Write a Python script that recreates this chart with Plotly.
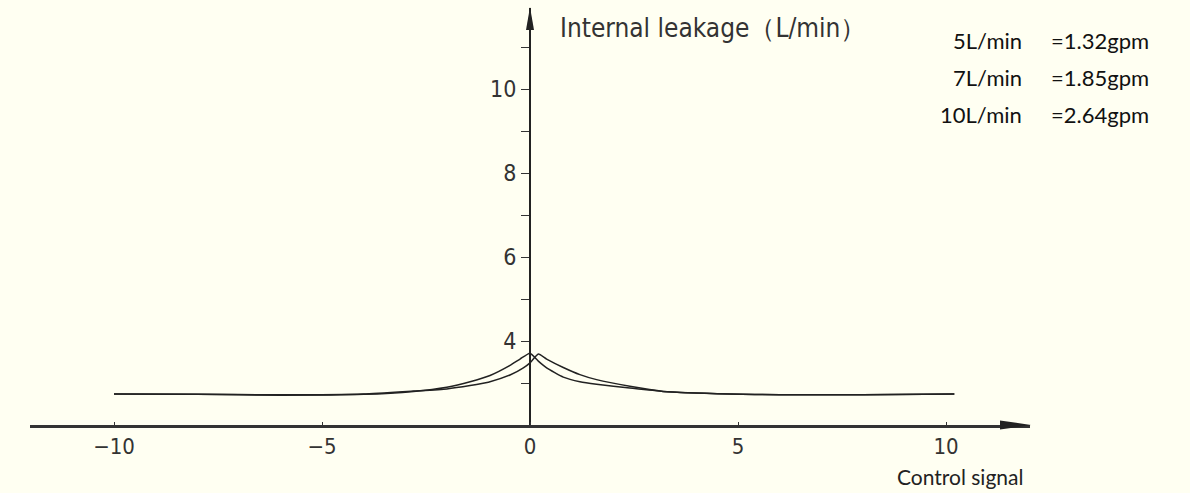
import plotly.graph_objects as go

# ---------------- data ----------------
x_a = [-10, -8, -6, -4, -2.8, -2, -1.44, -0.96, -0.48, -0.24, 0, 0.2, 0.4, 0.8, 1.2, 1.6, 2.4, 3.2, 4.8, 6, 8, 10.2]
y_a = [2.74, 2.73, 2.71, 2.73, 2.80, 2.90, 3.03, 3.18, 3.42, 3.57, 3.71, 3.52, 3.36, 3.14, 3.03, 2.97, 2.88, 2.80, 2.74, 2.72, 2.72, 2.74]

x_b = [-10, -8, -6, -4, -2.8, -2, -1.44, -1, -0.48, -0.16, 0, 0.2, 0.4, 0.8, 1.2, 1.6, 2.4, 3.2, 4.8, 6, 8, 10.2]
y_b = [2.74, 2.73, 2.72, 2.74, 2.81, 2.86, 2.94, 3.02, 3.19, 3.36, 3.48, 3.69, 3.57, 3.37, 3.20, 3.08, 2.92, 2.80, 2.74, 2.72, 2.72, 2.74]

x_ticks = [-10, -5, 0, 5, 10]
y_ticks = [4, 6, 8, 10]
y_minor = [3, 5, 7, 9, 11]

y_title = "Internal leakage（L/min）"
x_title = "Control signal"
flow_lpm = ["5L/min", "7L/min", "10L/min"]
flow_gpm = ["=1.32gpm", "=1.85gpm", "=2.64gpm"]

# ---------------- layout helpers ----------------
W, H = 1190, 493
BG = "#FFFFF2"
NARROW = "DejaVu Sans Condensed, Liberation Sans Narrow, Liberation Sans, sans-serif"
def px(p):
    return p / W
def py(p):
    return 1 - p / H

X0_PIX, X1_PIX = 30, 1030      # x-axis line extent (pixels)
Y_AXIS_PIX = 530               # pixel column of y axis
X_AXIS_PIX = 425               # pixel row of x axis
Y_TOP_PIX = 8                  # top of y axis arrow
X_SCALE = 41.6                 # px per unit
Y_SCALE = 42.0

x_lo = (X0_PIX - Y_AXIS_PIX) / X_SCALE
x_hi = (X1_PIX - Y_AXIS_PIX) / X_SCALE
y_lo = 2.0
y_hi = 2.0 + (X_AXIS_PIX - Y_TOP_PIX) / Y_SCALE

fig = go.Figure()
for xs, ys in [(x_a, y_a), (x_b, y_b)]:
    fig.add_trace(go.Scatter(
        x=xs, y=ys, mode="lines",
        line=dict(color="#222222", width=1.5, shape="spline", smoothing=0.5),
        hoverinfo="skip", showlegend=False))

tick_font = dict(family=NARROW, size=22, color="#333333")

fig.update_layout(
    width=W, height=H,
    margin=dict(l=0, r=0, t=0, b=0),
    paper_bgcolor=BG, plot_bgcolor=BG,
    showlegend=False,
    xaxis=dict(
        domain=[px(X0_PIX), px(X1_PIX)], range=[x_lo, x_hi],
        anchor="y", showgrid=False, zeroline=False,
        showline=True, linecolor="#333333", linewidth=2.5,
        tickmode="array", tickvals=x_ticks,
        ticks="inside", ticklen=3, tickwidth=1, tickcolor="#333333",
        tickfont=tick_font, ticklabelstandoff=0,
    ),
    yaxis=dict(
        domain=[py(X_AXIS_PIX), py(Y_TOP_PIX)], range=[y_lo, y_hi],
        anchor="free", position=px(Y_AXIS_PIX), showgrid=False, zeroline=False,
        showline=True, linecolor="#222222", linewidth=2,
        tickmode="array", tickvals=y_ticks,
        ticks="outside", ticklen=8, tickwidth=1, tickcolor="#333333",
        tickfont=dict(family=NARROW, size=23, color="#333333"),
        minor=dict(tickvals=y_minor, ticks="outside", ticklen=8, tickwidth=1, tickcolor="#333333"),
    ),
)

# arrow heads
fig.add_shape(type="path", xref="paper", yref="paper",
              path=f"M {px(1000)},{py(X_AXIS_PIX-4.5)} L {px(1031)},{py(X_AXIS_PIX)} L {px(1000)},{py(X_AXIS_PIX+4.5)} Z",
              fillcolor="#222222", line=dict(width=0))
fig.add_shape(type="path", xref="paper", yref="paper",
              path=f"M {px(Y_AXIS_PIX-4)},{py(30)} L {px(Y_AXIS_PIX)},{py(7)} L {px(Y_AXIS_PIX+4)},{py(30)} Z",
              fillcolor="#222222", line=dict(width=0))

# axis titles
fig.add_annotation(text=y_title, xref="paper", yref="paper",
                   x=px(558), y=py(28), xanchor="left", yanchor="middle",
                   showarrow=False, font=dict(family=NARROW, size=26, color="#333333"))
fig.add_annotation(text=x_title, xref="paper", yref="paper",
                   x=px(1025), y=py(476), xanchor="right", yanchor="middle",
                   showarrow=False, font=dict(family="Lato", size=21, color="#222222"))

rows_y = [41, 78, 115]
for lpm, gpm, yy in zip(flow_lpm, flow_gpm, rows_y):
    fig.add_annotation(text=lpm, xref="paper", yref="paper",
                       x=px(1024), y=py(yy), xanchor="right", yanchor="middle",
                       showarrow=False, font=dict(family="Lato", size=22, color="#111111"))
    fig.add_annotation(text=gpm, xref="paper", yref="paper",
                       x=px(1049), y=py(yy), xanchor="left", yanchor="middle",
                       showarrow=False, font=dict(family="Lato", size=22, color="#111111"))

fig.write_html("out.html")
